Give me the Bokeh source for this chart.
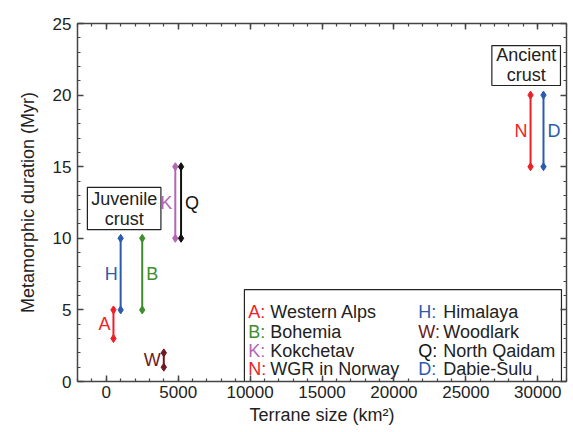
from bokeh.plotting import figure
from bokeh.models import LinearAxis, SingleIntervalTicker, Range1d, ColumnDataSource, CustomJSTickFormatter
from bokeh.core.properties import value
from bokeh.embed import file_html
from bokeh.resources import INLINE

# ---- data ----
codes = ["A", "H", "B", "W", "K", "Q", "N", "D"]
sizes = [500, 1000, 2500, 4000, 4800, 5200, 29500, 30400]
dur_min = [3, 5, 5, 1, 10, 10, 15, 15]
dur_max = [5, 10, 10, 2, 15, 15, 20, 20]
label_side = ["left", "left", "right", "left", "left", "right", "left", "right"]
colors = ["#ee1f26", "#2c5bae", "#3e8e2e", "#6e1a1e", "#b466b4", "#111111", "#ee1f26", "#2c5bae"]

legend_col1_codes = ["A", "B", "K", "N"]
legend_col1_names = ["Western Alps", "Bohemia", "Kokchetav", "WGR in Norway"]
legend_col2_codes = ["H", "W", "Q", "D"]
legend_col2_names = ["Himalaya", "Woodlark", "North Qaidam", "Dabie-Sulu"]

x_label = "Terrane size (km²)"
y_label = "Metamorphic duration (Myr)"

FONT = "Liberation Sans"
TXT = "#222222"
AX = "#444444"

p = figure(frame_width=489, frame_height=358, output_backend="svg", toolbar_location=None,
           x_range=Range1d(-2000, 32000), y_range=Range1d(0, 25),
           min_border_left=77, min_border_top=23, min_border_right=4, min_border_bottom=46)
p.xgrid.visible = False
p.ygrid.visible = False
p.outline_line_color = None
p.background_fill_color = "white"

p.xaxis.ticker = SingleIntervalTicker(interval=5000, num_minor_ticks=5)
p.yaxis.ticker = SingleIntervalTicker(interval=5, num_minor_ticks=5)
p.xaxis.axis_label = x_label
p.yaxis.axis_label = y_label

def style_axis(ax, labels=True):
    ax.axis_line_color = AX
    ax.axis_line_width = 1.5
    ax.major_tick_line_color = AX
    ax.minor_tick_line_color = AX
    ax.major_tick_line_width = 1.5
    ax.minor_tick_line_width = 1.2
    ax.major_tick_in = 6
    ax.major_tick_out = 0
    ax.minor_tick_in = 3
    ax.minor_tick_out = 0
    if labels:
        ax.major_label_text_font = FONT
        ax.major_label_text_font_size = "17px"
        ax.major_label_text_color = TXT
        ax.axis_label_text_font = FONT
        ax.axis_label_text_font_size = "18px"
        ax.axis_label_text_font_style = "normal"
        ax.axis_label_text_color = TXT
    else:
        ax.formatter = CustomJSTickFormatter(code="return '';")
        ax.major_label_standoff = 0

style_axis(p.xaxis[0])
style_axis(p.yaxis[0])
p.xaxis.major_label_standoff = 4
p.xaxis.axis_label_standoff = 4
p.yaxis.major_label_standoff = 6
p.yaxis.axis_label_standoff = 12

top = LinearAxis(ticker=SingleIntervalTicker(interval=5000, num_minor_ticks=5))
right = LinearAxis(ticker=SingleIntervalTicker(interval=5, num_minor_ticks=5))
style_axis(top, labels=False)
style_axis(right, labels=False)
p.add_layout(top, "above")
p.add_layout(right, "right")

# ---- ranges (segments) ----
src = ColumnDataSource(dict(x=sizes, y0=dur_min, y1=dur_max, c=colors, code=codes))
p.segment(x0="x", y0="y0", x1="x", y1="y1", line_color="c", line_width=2, source=src)
p.scatter(x="x", y="y0", marker="diamond", size=8, fill_color="c", line_color="c", source=src)
p.scatter(x="x", y="y1", marker="diamond", size=8, fill_color="c", line_color="c", source=src)

for side in ("left", "right"):
    idx = [i for i, s in enumerate(label_side) if s == side]
    s = ColumnDataSource(dict(x=[sizes[i] for i in idx],
                              y=[(dur_min[i] + dur_max[i]) / 2 for i in idx],
                              t=[codes[i] for i in idx],
                              c=[colors[i] for i in idx]))
    p.text(x="x", y="y", text="t", text_color="c", source=s,
           text_font=value(FONT), text_font_size="18px",
           text_align="right" if side == "left" else "left", text_baseline="middle",
           x_offset=-3 if side == "left" else 4)

# ---- crust boxes ----
p.quad(left=[-1313], right=[3800], bottom=[10.6], top=[13.55],
       fill_color="white", line_color="#222222", line_width=1.2)
p.text(x=[1244], y=[12.05], text=["Juvenile\ncrust"], text_font=value(FONT),
       text_font_size="18px", text_color=TXT, text_align="center",
       text_baseline="middle", text_line_height=1.0)
p.quad(left=[26810], right=[31580], bottom=[20.67], top=[23.46],
       fill_color="white", line_color="#222222", line_width=1.2)
p.text(x=[29200], y=[22.13], text=["Ancient\ncrust"], text_font=value(FONT),
       text_font_size="18px", text_color=TXT, text_align="center",
       text_baseline="middle", text_line_height=1.0)

# ---- legend ----
color_of = dict(zip(codes, colors))
p.quad(left=[9606], right=[31650], bottom=[0.0], top=[6.42],
       fill_color="white", line_color="#222222", line_width=1.2)
row_y = [4.82, 3.49, 2.16, 0.84]
for cods, names, px, nx in ((legend_col1_codes, legend_col1_names, 9880, 11400),
                            (legend_col2_codes, legend_col2_names, 21700, 23430)):
    p.text(x=[px] * len(cods), y=row_y, text=[c + ":" for c in cods],
           text_color=[color_of[c] for c in cods], text_font=value(FONT),
           text_font_size="18px", text_baseline="middle", text_align="left")
    p.text(x=[nx] * len(names), y=row_y, text=names, text_color=TXT,
           text_font=value(FONT), text_font_size="18px", text_baseline="middle",
           text_align="left")

open("out.html", "w").write(file_html(p, INLINE))
